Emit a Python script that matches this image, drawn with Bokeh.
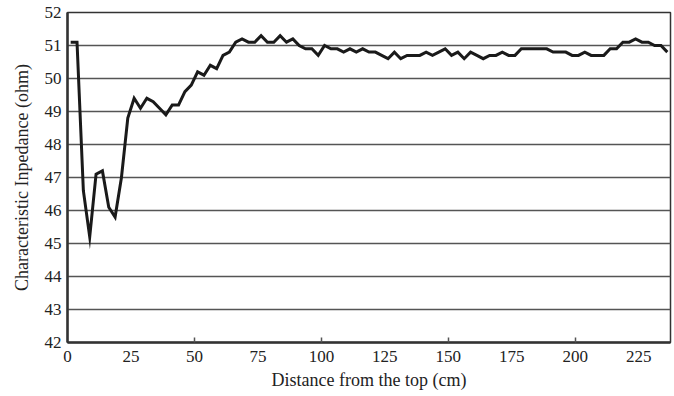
import numpy as np
from bokeh.plotting import figure
from bokeh.models import FixedTicker
from bokeh.embed import file_html
from bokeh.resources import INLINE

# Impedance readings, one every 2.5 cm (category centres)
impedance = [
    51.1, 51.1, 46.6, 45.2, 47.1, 47.2, 46.1, 45.8, 47.0, 48.8,
    49.4, 49.1, 49.4, 49.3, 49.1, 48.9, 49.2, 49.2, 49.6, 49.8,
    50.2, 50.1, 50.4, 50.3, 50.7, 50.8, 51.1, 51.2, 51.1, 51.1,
    51.3, 51.1, 51.1, 51.3, 51.1, 51.2, 51.0, 50.9, 50.9, 50.7,
    51.0, 50.9, 50.9, 50.8, 50.9, 50.8, 50.9, 50.8, 50.8, 50.7,
    50.6, 50.8, 50.6, 50.7, 50.7, 50.7, 50.8, 50.7, 50.8, 50.9,
    50.7, 50.8, 50.6, 50.8, 50.7, 50.6, 50.7, 50.7, 50.8, 50.7,
    50.7, 50.9, 50.9, 50.9, 50.9, 50.9, 50.8, 50.8, 50.8, 50.7,
    50.7, 50.8, 50.7, 50.7, 50.7, 50.9, 50.9, 51.1, 51.1, 51.2,
    51.1, 51.1, 51.0, 51.0, 50.8,
]
step_cm = 2.5
distance = [step_cm * (i + 0.5) for i in range(len(impedance))]

x_ticks = [0, 25, 50, 75, 100, 125, 150, 175, 200, 225]
x_minor = [50, 100, 150, 200]
y_ticks = [42, 43, 44, 45, 46, 47, 48, 49, 50, 51, 52]

FONT = "Liberation Serif"

p = figure(width=674, height=396, output_backend="svg", toolbar_location=None,
           x_range=(0, step_cm * len(impedance)), y_range=(42, 52),
           min_border_left=67, min_border_right=4, min_border_top=12,
           min_border_bottom=54)
p.background_fill_color = "white"
p.border_fill_color = "white"
p.outline_line_color = "#333333"
p.outline_line_width = 1.5

p.line(distance, impedance, line_color="#1a1a1a", line_width=3, line_join="miter")

p.xgrid.grid_line_color = None
p.ygrid.grid_line_color = "#555555"
p.ygrid.grid_line_width = 1.3
p.ygrid.ticker = FixedTicker(ticks=y_ticks)

p.xaxis.ticker = FixedTicker(ticks=x_ticks, minor_ticks=x_minor)
p.yaxis.ticker = FixedTicker(ticks=y_ticks)
for ax in (p.xaxis, p.yaxis):
    ax.axis_line_color = "#333333"
    ax.axis_line_width = 2.5
    ax.major_tick_in = 0
    ax.major_tick_out = 0
    ax.minor_tick_out = 0
    ax.major_label_text_font = FONT
    ax.major_label_text_font_size = "17px"
    ax.major_label_text_color = "#222222"
    ax.axis_label_text_font = FONT
    ax.axis_label_text_font_size = "18px"
    ax.axis_label_text_font_style = "normal"
    ax.axis_label_text_color = "#222222"
p.xaxis.minor_tick_in = 5
p.xaxis.minor_tick_line_color = "#555555"
p.xaxis.minor_tick_line_width = 1.5
p.yaxis.minor_tick_in = 0
p.yaxis.minor_tick_line_color = None

p.xaxis.axis_label = "Distance from the top (cm)"
p.yaxis.axis_label = "Characteristic Inpedance (ohm)"
p.xaxis.major_label_standoff = 8
p.yaxis.major_label_standoff = 6
p.xaxis.axis_label_standoff = 5
p.yaxis.axis_label_standoff = 10

open("out.html", "w").write(file_html(p, INLINE))
